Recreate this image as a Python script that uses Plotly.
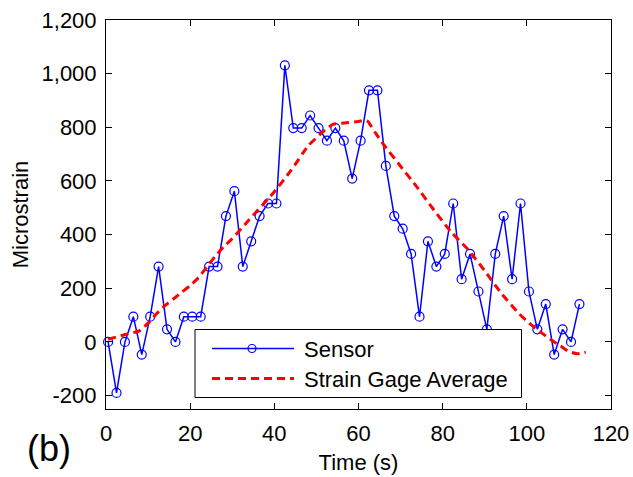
import plotly.graph_objects as go

# ---- data ----
sensor_t = [0.5 + 2 * i for i in range(57)]
sensor_v = [0, -190, 0, 94, -47, 94, 281, 47, 0, 94,
            94, 94, 281, 281, 469, 562, 281, 375, 469, 516,
            516, 1031, 797, 797, 844, 797, 750, 797, 750, 609,
            750, 938, 938, 656, 469, 422, 328, 94, 375, 281,
            328, 516, 234, 328, 188, 47, 328, 469, 234, 516,
            188, 47, 141, -47, 47, 0, 141]

gage_t = [0.5, 4, 8, 10, 12, 14, 16, 18, 20, 22, 24, 26, 28, 30, 34, 40, 44, 48,
          52, 54, 56, 60, 62, 64, 66, 70, 74, 78, 82, 86, 90, 94, 98, 100, 102,
          104, 106, 108, 110, 112, 114]
gage_v = [10, 25, 42, 70, 105, 135, 160, 185, 210, 240, 280, 320, 355, 385, 455,
          560, 640, 730, 790, 812, 815, 822, 825, 780, 735, 655, 575, 490, 410,
          345, 265, 180, 108, 78, 52, 28, 5, -15, -36, -44, -38]

x_ticks = [0, 20, 40, 60, 80, 100, 120]
x_ticktext = ["0", "20", "40", "60", "80", "100", "120"]
y_ticks = [-200, 0, 200, 400, 600, 800, 1000, 1200]
y_ticktext = ["-200", "0", "200", "400", "600", "800", "1,000", "1,200"]

series_names = ["Sensor", "Strain Gage Average"]

BLUE = "#0000FF"
RED = "#FF0000"
FONT = "Liberation Sans, Arial, sans-serif"
FS = 22

W, H = 633, 477
ML, MR, MT, MB = 106, 22, 20, 68
PW = W - ML - MR
PH = H - MT - MB


def px(x):
    return (x - ML) / PW


def py(y):
    return (H - MB - y) / PH


fig = go.Figure()
fig.add_trace(go.Scatter(
    x=sensor_t, y=sensor_v, mode="lines+markers", name=series_names[0],
    line=dict(color=BLUE, width=1.5),
    marker=dict(symbol="circle-open", size=9, color=BLUE, line=dict(width=1.2)),
    showlegend=False, cliponaxis=False,
))
fig.add_trace(go.Scatter(
    x=gage_t, y=gage_v, mode="lines", name=series_names[1],
    line=dict(color=RED, width=3, dash="8px,5px", shape="spline", smoothing=0.5),
    showlegend=False,
))

axis_common = dict(
    showgrid=False, zeroline=False, showline=True, linecolor="black", linewidth=1,
    ticks="inside", ticklen=6, tickwidth=1, tickcolor="black", mirror="ticks",
    tickfont=dict(family=FONT, size=FS, color="black"), automargin=False,
)

fig.update_xaxes(range=[0, 120], tickvals=x_ticks, ticktext=x_ticktext,
                 title=dict(text="Time (s)", font=dict(family=FONT, size=FS, color="black"),
                            standoff=9),
                 ticklabelstandoff=5, **axis_common)
fig.update_yaxes(range=[-250, 1200], tickvals=y_ticks, ticktext=y_ticktext,
                 title=dict(text="Microstrain", font=dict(family=FONT, size=FS, color="black"),
                            standoff=6),
                 ticklabelstandoff=4, **axis_common)

# ---- legend drawn as a framed box ----
box = dict(x0=195, y0=329.5, x1=521.5, y1=397.5)
shapes = [
    dict(type="rect", xref="paper", yref="paper", layer="above",
         x0=px(box["x0"]), x1=px(box["x1"]), y0=py(box["y1"]), y1=py(box["y0"]),
         line=dict(color="black", width=1), fillcolor="white"),
    dict(type="line", xref="paper", yref="paper", layer="above",
         x0=px(212), x1=px(294), y0=py(348.5), y1=py(348.5),
         line=dict(color=BLUE, width=1.5)),
    dict(type="circle", xref="paper", yref="paper", layer="above",
         xsizemode="pixel", ysizemode="pixel", xanchor=px(252), yanchor=py(348.5),
         x0=-4, x1=4, y0=-4, y1=4, line=dict(color=BLUE, width=1.2)),
    dict(type="line", xref="paper", yref="paper", layer="above",
         x0=px(212), x1=px(294), y0=py(378.5), y1=py(378.5),
         line=dict(color=RED, width=3, dash="8px,5px")),
]
annotations = [
    dict(text=series_names[0], xref="paper", yref="paper", x=px(302), y=py(349),
         xanchor="left", yanchor="middle", showarrow=False,
         font=dict(family=FONT, size=FS, color="black")),
    dict(text=series_names[1], xref="paper", yref="paper", x=px(302), y=py(379),
         xanchor="left", yanchor="middle", showarrow=False,
         font=dict(family=FONT, size=FS, color="black")),
    dict(text="(b)", xref="paper", yref="paper", x=px(49), y=py(449),
         xanchor="center", yanchor="middle", showarrow=False,
         font=dict(family=FONT, size=36, color="black")),
]

fig.update_layout(
    width=W, height=H, margin=dict(l=ML, r=MR, t=MT, b=MB, autoexpand=False),
    paper_bgcolor="white", plot_bgcolor="white",
    shapes=shapes, annotations=annotations, showlegend=False,
)

fig.write_html("out.html")
